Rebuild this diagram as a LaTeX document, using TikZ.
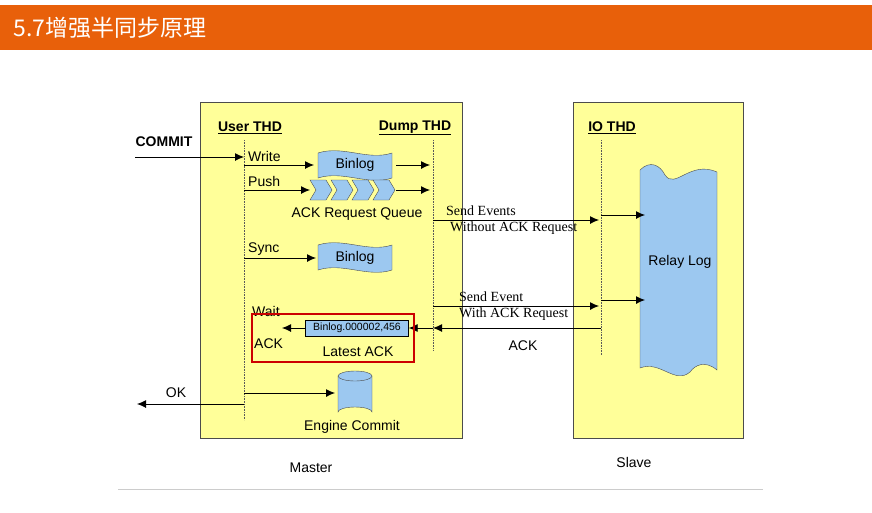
\documentclass[tikz,border=0pt]{standalone}
\usepackage{fontspec}
\setmainfont{Liberation Sans}
\newfontfamily\cjk{Noto Sans CJK SC}
\newfontfamily\serif{Liberation Serif}
\usetikzlibrary{shapes.geometric,arrows.meta}
\definecolor{barorange}{HTML}{E8600A}
\definecolor{boxyellow}{HTML}{FFFF99}
\definecolor{datablue}{HTML}{9CC8F0}
\tikzset{
  lbl/.style={inner sep=0pt,font=\fontsize{14}{14}\selectfont},
  thd/.style={lbl,font=\fontsize{14}{14}\selectfont\bfseries},
  msg/.style={inner sep=0pt,font=\fontsize{14}{16}\selectfont\serif,align=left},
  arr/.style={-{Latex[length=9pt,width=8pt]},line width=0.9pt},
  life/.style={densely dotted,line width=0.6pt,gray!70!black}
}
\newcommand{\binlogshape}[2]{% #1 = left x, #2 = top y
  \fill[datablue,draw=black!70] (#1,#2) .. controls (#1+25,#2-8) and (#1+50,#2+8) .. (#1+74,#2)
    -- (#1+74,#2+25) .. controls (#1+50,#2+33) and (#1+25,#2+17) .. (#1,#2+25) -- cycle;}
\begin{document}
\begin{tikzpicture}[x=1pt,y=-1pt]
\useasboundingbox (0,0) rectangle (872,512);
% title bar
\fill[barorange] (0,5) rectangle (872,50);
\node[anchor=west,text=white,font=\fontsize{23}{23}\selectfont\cjk] (title) at (10,28) {5.7增强半同步原理};
% boxes
\draw[fill=boxyellow,draw=black!70] (200,102) rectangle (462,438);
\draw[fill=boxyellow,draw=black!70] (573,102) rectangle (743,438);
\node[thd] (user) at (250,128) {\underline{User THD}};
\node[thd] (dump) at (415,128) {\underline{Dump THD}};
\node[thd] (io) at (612,128) {\underline{IO THD}};
\draw[life] (244,140) -- (244,420);
\draw[life] (433,140) -- (433,350);
\draw[life] (601,140) -- (601,355);
% relay log
\fill[datablue,draw=black!70] (640,170) .. controls (650,160) and (660,165) .. (665,175)
  .. controls (675,190) and (690,160) .. (717,172) -- (717,370) .. controls (705,360) and (695,365) .. (690,372)
  .. controls (675,385) and (660,360) .. (640,368) -- cycle;
\node[lbl] (relay) at (680,262) {Relay Log};
% commit
\node[thd] (commit) at (164,142) {COMMIT};
\coordinate (c0) at (135,157); \coordinate (c1) at (244,157);
\draw[arr] (c0) -- (c1);
% write
\node[lbl,anchor=west] (write) at (248,156) {Write};
\binlogshape{318}{153}
\node[lbl] (bin1) at (355,165) {Binlog};
\draw[arr] (244,165) -- (314,165);
\draw[arr] (396,165) -- (430,165);
% push
\node[lbl,anchor=west] (push) at (248,181) {Push};
\foreach \i in {0,1,2,3}
  \fill[datablue,draw=black!70] (310+\i*21,180) -- ++(16,0) -- ++(6,10) -- ++(-6,10) -- ++(-16,0) -- ++(6,-10) -- cycle;
\draw[arr] (244,190) -- (310,190);
\draw[arr] (396,190) -- (430,190);
\node[lbl] (queue) at (357,214) {ACK Request Queue};
% send events
\node[msg,anchor=west] (send1) at (446,220) {Send Events\\\hspace{4pt}Without ACK Request};
\draw[arr] (433,220) -- (599,220);
\draw[arr] (601,215) -- (645,215);
% sync
\node[lbl,anchor=west] (sync) at (248,249) {Sync};
\binlogshape{318}{245}
\node[lbl] (bin2) at (355,258) {Binlog};
\draw[arr] (244,258) -- (316,258);
% send event with ack
\node[msg,anchor=west] (send2) at (459,306) {Send Event\\With ACK Request};
\draw[arr] (433,306) -- (599,306);
\draw[arr] (601,300) -- (645,300);
% ack path
\node[draw=black,fill=datablue,inner sep=1.5pt,minimum width=103pt,minimum height=16pt,font=\fontsize{10.5}{10.5}\selectfont] (latest) at (357,328) {Binlog.000002,456};
\draw[arr] (601,328) -- (433,328);
\draw[arr] (433,328) -- (latest.east);
\draw[arr] (latest.west) -- (282,328);
\node[lbl,anchor=west] (ack) at (254,344) {ACK};
\node[lbl,anchor=west] (wait) at (252,311) {Wait};
\node[lbl] (lack) at (358,352) {Latest ACK};
\node[lbl] (ack2) at (523,346) {ACK};
\draw[red!80!black,line width=1.5pt] (252,314) rectangle (414,362);
% engine commit
\fill[datablue,draw=black!70] (338,376) -- (338,412) arc[start angle=180,end angle=360,x radius=17,y radius=5] -- (372,376) -- cycle;
\draw[fill=datablue,draw=black!70] (355,376) ellipse[x radius=17,y radius=5];
\draw[arr] (244,393) -- (335,393);
\draw[arr] (244,404) -- (137,404);
\node[lbl] (ok) at (176,393) {OK};
\node[lbl] (engine) at (352,427) {Engine Commit};
% captions
\node[lbl] (master) at (311,468) {Master};
\node[lbl] (slave) at (634,462) {Slave};
\draw[gray!40] (118,489) -- (763,489);
\end{tikzpicture}
\end{document}
